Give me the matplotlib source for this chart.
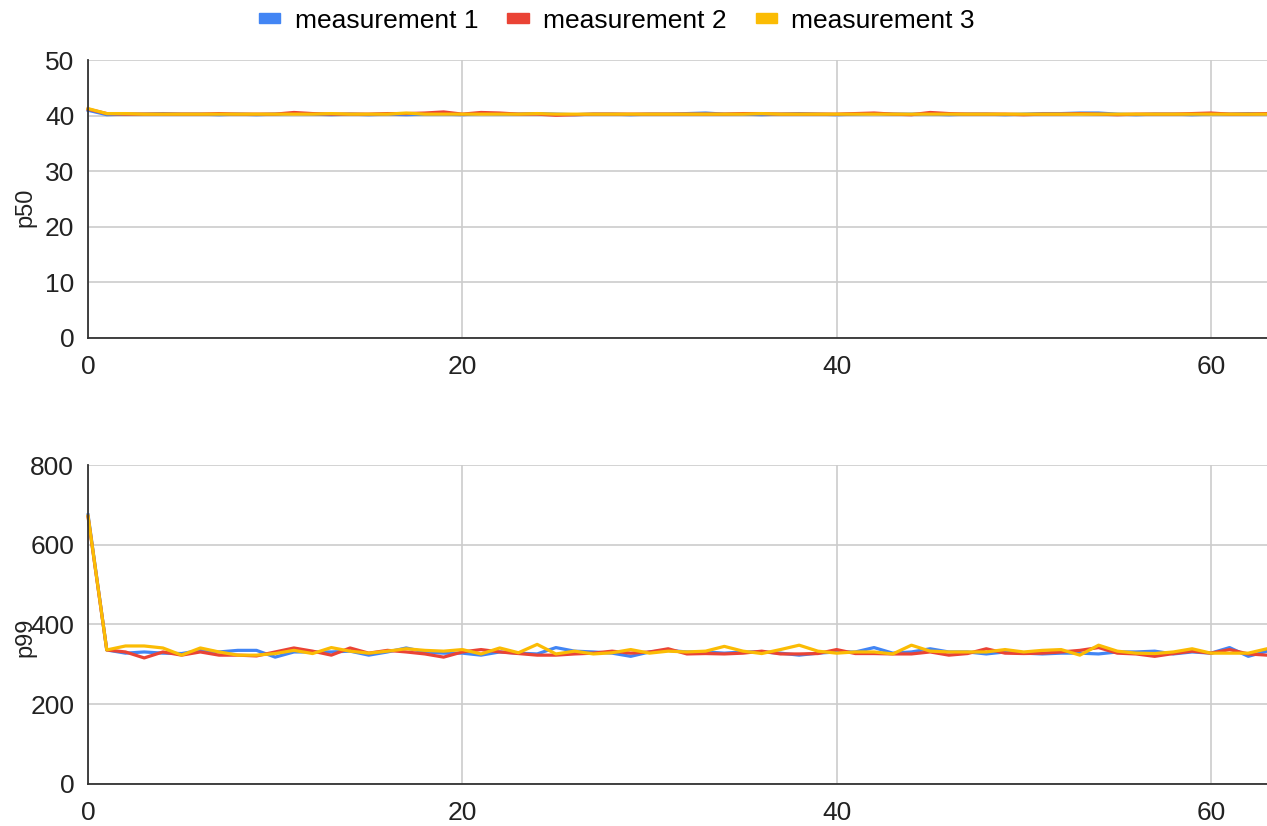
import numpy as np
import matplotlib.pyplot as plt
from matplotlib.patches import Patch

plt.rcParams['font.family'] = ['Liberation Sans', 'DejaVu Sans']

x_vals = list(range(64))
series_names = ["measurement 1", "measurement 2", "measurement 3"]
series_colors = ["#4285F4", "#EA4335", "#FBBC04"]

# p50 values
p50_m1 = [41.0, 40.2, 40.3, 40.3, 40.4, 40.3, 40.3, 40.2, 40.3, 40.2, 40.3, 40.4, 40.3, 40.2, 40.3, 40.2,
          40.3, 40.2, 40.3, 40.3, 40.2, 40.4, 40.3, 40.3, 40.4, 40.3, 40.2, 40.3, 40.3, 40.2, 40.3, 40.3,
          40.4, 40.5, 40.3, 40.3, 40.2, 40.3, 40.4, 40.3, 40.2, 40.3, 40.4, 40.3, 40.3, 40.3, 40.2, 40.3,
          40.3, 40.2, 40.3, 40.4, 40.4, 40.5, 40.5, 40.3, 40.2, 40.3, 40.3, 40.2, 40.3, 40.3, 40.4, 40.3]
p50_m2 = [41.2, 40.4, 40.3, 40.3, 40.3, 40.3, 40.3, 40.4, 40.3, 40.3, 40.3, 40.6, 40.4, 40.3, 40.3, 40.3,
          40.4, 40.4, 40.5, 40.7, 40.3, 40.6, 40.5, 40.3, 40.3, 40.1, 40.2, 40.3, 40.3, 40.3, 40.3, 40.3,
          40.3, 40.3, 40.3, 40.4, 40.4, 40.3, 40.3, 40.3, 40.3, 40.4, 40.5, 40.3, 40.2, 40.6, 40.4, 40.3,
          40.3, 40.3, 40.2, 40.3, 40.3, 40.4, 40.3, 40.2, 40.3, 40.3, 40.3, 40.4, 40.5, 40.3, 40.3, 40.4]
p50_m3 = [41.3, 40.4, 40.4, 40.3, 40.3, 40.3, 40.3, 40.3, 40.3, 40.3, 40.3, 40.3, 40.3, 40.4, 40.3, 40.3,
          40.3, 40.5, 40.3, 40.3, 40.3, 40.3, 40.3, 40.3, 40.4, 40.3, 40.3, 40.3, 40.3, 40.3, 40.3, 40.3,
          40.3, 40.3, 40.3, 40.3, 40.4, 40.3, 40.3, 40.3, 40.3, 40.3, 40.3, 40.3, 40.3, 40.3, 40.3, 40.3,
          40.3, 40.3, 40.3, 40.3, 40.3, 40.3, 40.3, 40.3, 40.3, 40.3, 40.3, 40.3, 40.3, 40.3, 40.3, 40.3]

# p99 values
p99_m1 = [675, 336, 328, 331, 328, 327, 335, 331, 335, 335, 318, 331, 331, 331, 333, 323,
          331, 341, 331, 328, 328, 323, 331, 328, 326, 342, 333, 331, 328, 320, 331, 335,
          331, 331, 328, 331, 331, 328, 323, 328, 331, 331, 342, 328, 331, 339, 331, 331,
          326, 331, 328, 326, 328, 328, 326, 331, 331, 333, 326, 331, 328, 342, 320, 333]
p99_m2 = [670, 336, 331, 316, 331, 323, 331, 323, 323, 321, 331, 341, 333, 323, 341, 328,
          335, 331, 326, 318, 331, 337, 331, 327, 323, 323, 326, 328, 333, 328, 331, 339,
          326, 327, 326, 328, 333, 326, 326, 327, 337, 327, 327, 326, 326, 331, 323, 327,
          339, 328, 327, 328, 331, 335, 342, 328, 326, 320, 327, 333, 328, 337, 326, 323]
p99_m3 = [672, 336, 346, 346, 341, 323, 341, 331, 323, 323, 327, 335, 327, 342, 333, 328,
          333, 339, 335, 333, 337, 326, 341, 329, 350, 326, 333, 326, 329, 337, 328, 333,
          331, 333, 345, 333, 327, 337, 348, 333, 328, 331, 331, 326, 348, 333, 331, 331,
          331, 337, 331, 335, 337, 323, 348, 333, 328, 327, 331, 339, 328, 328, 328, 339]

fig = plt.figure(figsize=(12.67, 8.26), dpi=100)
ax_top = fig.add_axes([0.0695, 0.591, 0.9305, 0.336])
ax_bot = fig.add_axes([0.0695, 0.051, 0.9305, 0.386])


def style_axis(ax, ylim, yticks, ylabel):
    ax.set_xlim(0, 63)
    ax.set_ylim(*ylim)
    ax.set_yticks(yticks)
    ax.set_xticks([0, 20, 40, 60])
    ax.grid(True, color="#cccccc", linewidth=1.2)
    ax.set_axisbelow(True)
    for side in ["top", "right"]:
        ax.spines[side].set_visible(False)
    for side in ["left", "bottom"]:
        ax.spines[side].set_color("#333333")
        ax.spines[side].set_linewidth(1.3)
    ax.tick_params(length=0, labelsize=19, labelcolor="#222222")
    ax.tick_params(axis="y", pad=10)
    ax.tick_params(axis="x", pad=12)
    ax.set_ylabel(ylabel, fontsize=17, color="#222222")


for ys, c in zip([p50_m1, p50_m2, p50_m3], series_colors):
    ax_top.plot(x_vals, ys, color=c, linewidth=2.3, clip_on=False)
for ys, c in zip([p99_m1, p99_m2, p99_m3], series_colors):
    ax_bot.plot(x_vals, ys, color=c, linewidth=2.3, clip_on=False)

style_axis(ax_top, (0, 50), [0, 10, 20, 30, 40, 50], "p50")
style_axis(ax_bot, (0, 800), [0, 200, 400, 600, 800], "p99")
ax_top.yaxis.set_label_coords(-0.044, 0.47)
ax_bot.yaxis.set_label_coords(-0.044, 0.46)

handles = [Patch(facecolor=c, edgecolor=c) for c in series_colors]
fig.legend(handles, series_names, loc="upper center", bbox_to_anchor=(0.487, 1.018), ncol=3,
           frameon=False, fontsize=19, handlelength=0.8, handleheight=0.2,
           handletextpad=0.55, columnspacing=1.1)

fig.savefig("out.png", dpi=100)
